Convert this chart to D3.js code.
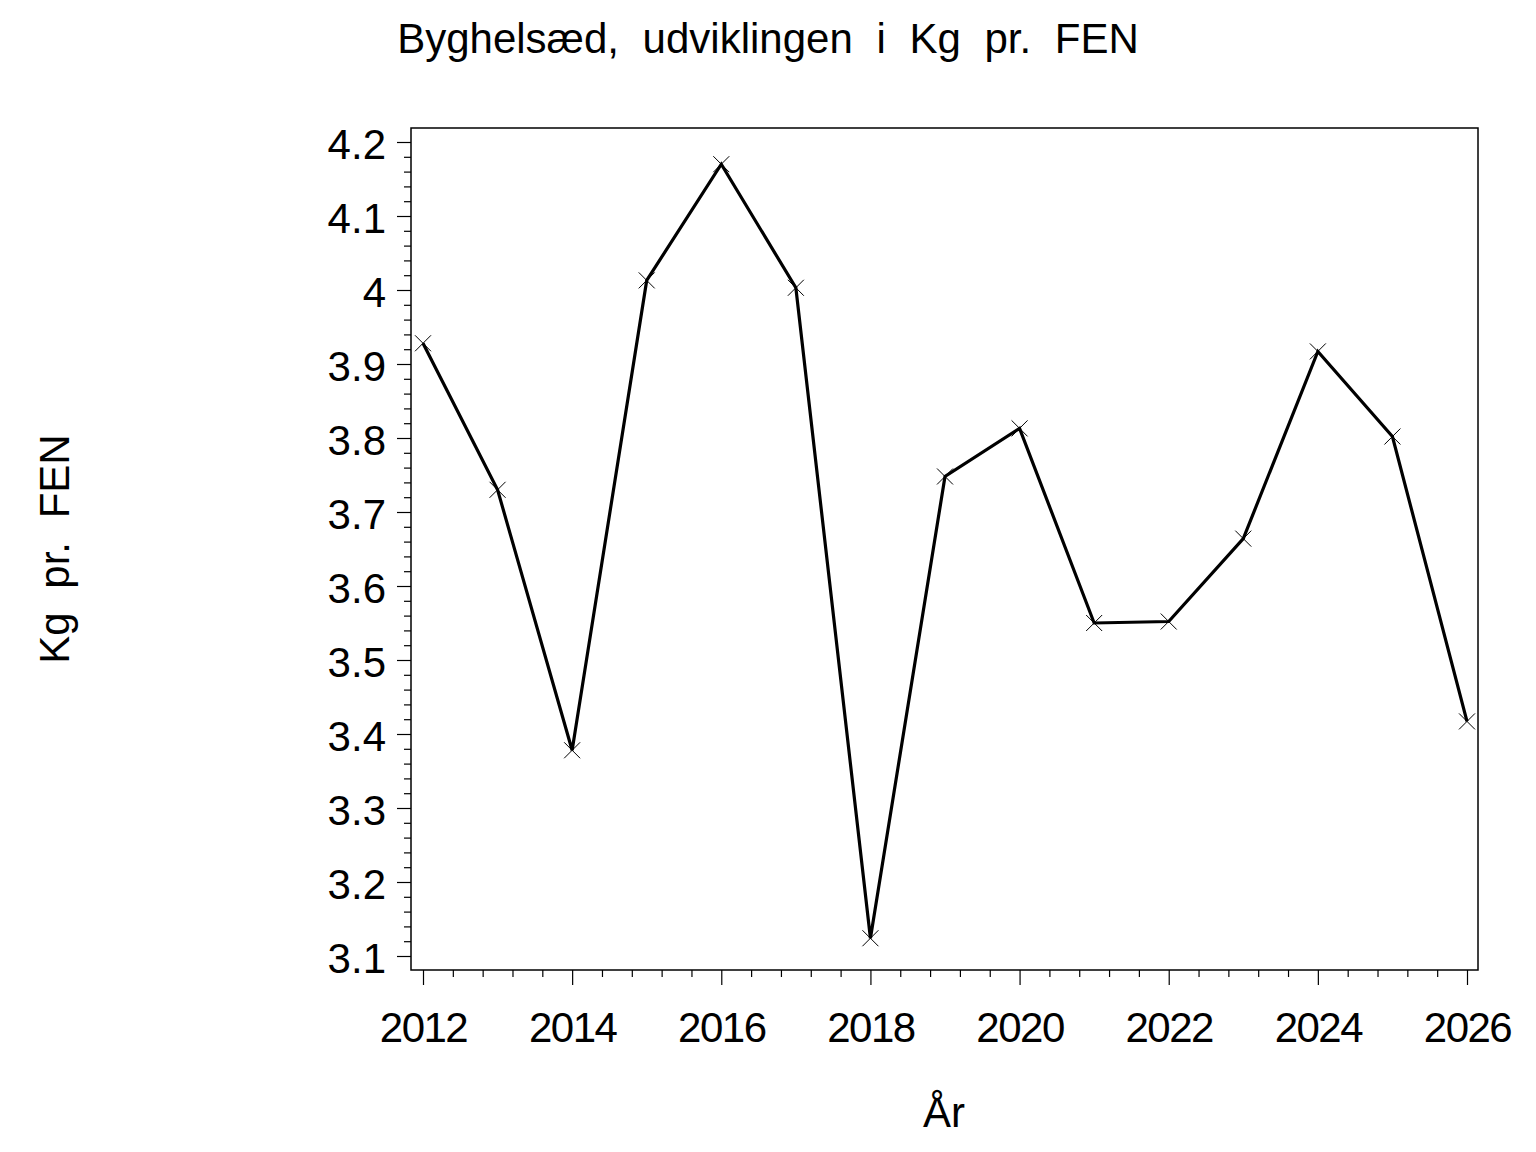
<!DOCTYPE html>
<html>
<head>
<meta charset="utf-8">
<script src="https://cdn.jsdelivr.net/npm/d3@7"></script>
<style>
  body { margin: 0; background: #fff; }
  text { font-family: "Liberation Sans", Arial, sans-serif; fill: #000; }
</style>
</head>
<body>
<script>
// data
let years = [2012, 2013, 2014, 2015, 2016, 2017, 2018, 2019, 2020, 2021, 2022, 2023, 2024, 2025, 2026];
let kgPrFen = [3.928, 3.730, 3.378, 4.013, 4.170, 4.003, 3.124, 3.748, 3.813, 3.550, 3.552, 3.664, 3.917, 3.802, 3.417];
let xMajorTicks = [2012, 2014, 2016, 2018, 2020, 2022, 2024, 2026];
let yMajorTicks = [3.1, 3.2, 3.3, 3.4, 3.5, 3.6, 3.7, 3.8, 3.9, 4.0, 4.1, 4.2];

function main() {

    let svg = d3.select("body").append("svg")
        .attr("width", 1536)
        .attr("height", 1152);

    let frame = {left: 411, right: 1478, top: 128, bottom: 970};

    let xScale = d3.scaleLinear().domain([2012, 2026]).range([423, 1467]);
    let yScale = d3.scaleLinear().domain([3.1, 4.2]).range([956, 142]);

    // minor ticks: 4 between each pair of majors
    let xMinor = [];
    for (let i = 0; i < xMajorTicks.length - 1; i++) {
        for (let k = 1; k < 5; k++) xMinor.push(xMajorTicks[i] + k * 0.4);
    }
    let yMinor = [];
    for (let i = 0; i < yMajorTicks.length - 1; i++) {
        for (let k = 1; k < 5; k++) yMinor.push(yMajorTicks[i] + k * 0.02);
    }

    // title
    svg.append("text")
        .attr("x", 768)
        .attr("y", 53)
        .attr("text-anchor", "middle")
        .style("font-size", "42px")
        .style("word-spacing", "12px")
        .text("Byghelsæd, udviklingen i Kg pr. FEN");

    // y axis label
    svg.append("text")
        .attr("transform", "translate(69, 549) rotate(-90)")
        .attr("text-anchor", "middle")
        .style("font-size", "42px")
        .style("word-spacing", "12px")
        .text("Kg pr. FEN");

    // x axis label
    svg.append("text")
        .attr("x", 944)
        .attr("y", 1127)
        .attr("text-anchor", "middle")
        .style("font-size", "42px")
        .text("År");

    // frame
    svg.append("rect")
        .attr("x", frame.left)
        .attr("y", frame.top)
        .attr("width", frame.right - frame.left)
        .attr("height", frame.bottom - frame.top)
        .attr("fill", "none")
        .attr("stroke", "black")
        .attr("stroke-width", 1.5);

    // y axis
    let yAxisMinor = d3.axisLeft(yScale).tickValues(yMinor).tickSize(7).tickFormat("");
    let yAxis = d3.axisLeft(yScale).tickValues(yMajorTicks).tickSize(14).tickPadding(11)
        .tickFormat(d3.format("~g"));

    svg.append("g")
        .attr("transform", `translate(${frame.left},0)`)
        .call(yAxisMinor)
        .call(g => g.select(".domain").remove());

    svg.append("g")
        .attr("transform", `translate(${frame.left},0)`)
        .style("font-size", "42px")
        .style("font-family", "'Liberation Sans', Arial, sans-serif")
        .call(yAxis)
        .call(g => g.select(".domain").remove())
        .selectAll("text")
        .attr("dy", "0.40em");

    // x axis
    let xAxisMinor = d3.axisBottom(xScale).tickValues(xMinor).tickSize(7).tickFormat("");
    let xAxis = d3.axisBottom(xScale).tickValues(xMajorTicks).tickSize(15).tickPadding(27)
        .tickFormat(d3.format("d"));

    svg.append("g")
        .attr("transform", `translate(0,${frame.bottom})`)
        .call(xAxisMinor)
        .call(g => g.select(".domain").remove());

    svg.append("g")
        .attr("transform", `translate(0,${frame.bottom})`)
        .style("font-size", "42px")
        .style("font-family", "'Liberation Sans', Arial, sans-serif")
        .call(xAxis)
        .call(g => g.select(".domain").remove())
        .selectAll("text")
        .style("letter-spacing", "-1.5px");

    svg.selectAll(".tick line").attr("stroke", "black").attr("stroke-width", 1.2);

    let data = years.map((y, i) => ({year: y, value: kgPrFen[i]}));

    let line = d3.line()
        .x(d => xScale(d.year))
        .y(d => yScale(d.value));

    svg.append("path")
        .datum(data)
        .attr("d", line)
        .attr("fill", "none")
        .attr("stroke", "black")
        .attr("stroke-width", 3.2)
        .attr("stroke-linejoin", "miter");

    // x markers
    let m = 8;
    svg.selectAll("path.marker")
        .data(data)
        .enter()
        .append("path")
        .attr("class", "marker")
        .attr("d", d => {
            let cx = xScale(d.year), cy = yScale(d.value);
            return `M${cx - m},${cy - m}L${cx + m},${cy + m}M${cx - m},${cy + m}L${cx + m},${cy - m}`;
        })
        .attr("stroke", "black")
        .attr("stroke-width", 1)
        .attr("fill", "none");
}

main()
</script>
</body>
</html>
